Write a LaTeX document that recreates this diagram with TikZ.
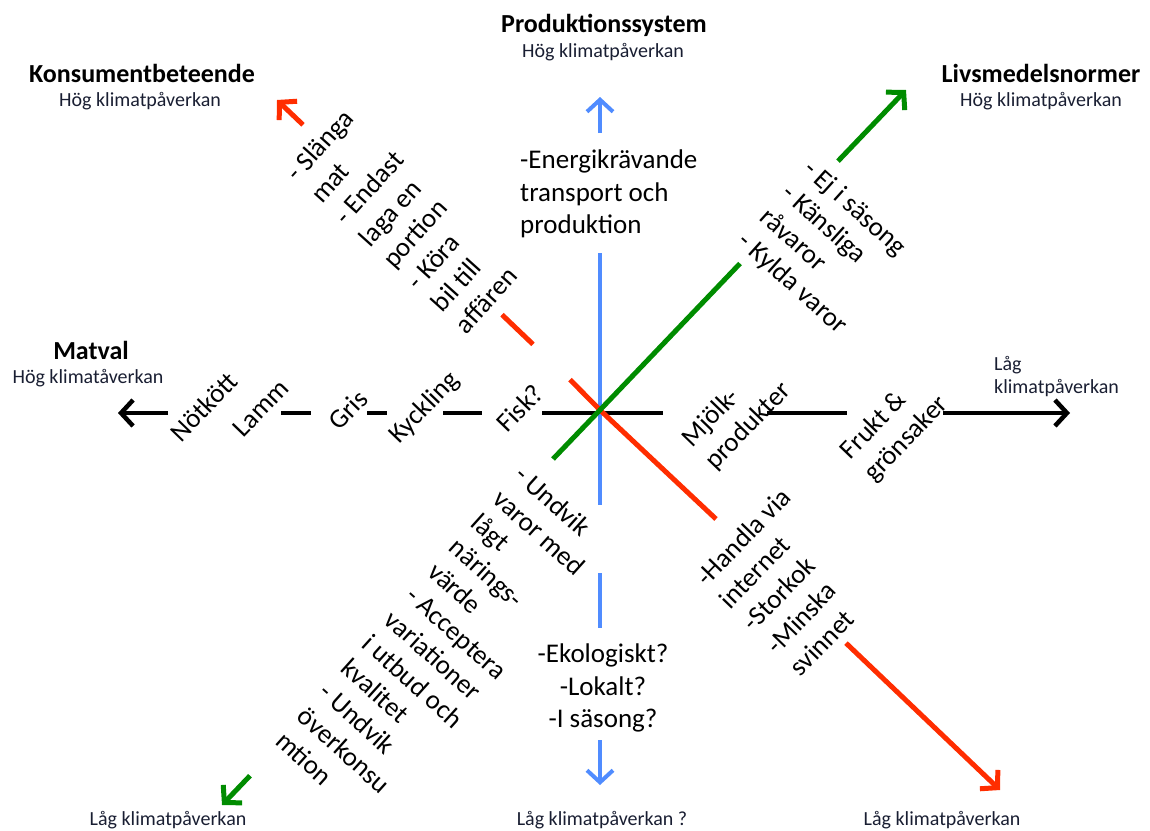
\documentclass[tikz,border=0pt]{standalone}
\usepackage{fontspec}
\setmainfont{Carlito}
\usetikzlibrary{arrows.meta}

\definecolor{konsumentRod}{RGB}{255,45,0}
\definecolor{livsmedelGron}{RGB}{0,140,0}
\definecolor{produktionBla}{RGB}{80,140,255}
\definecolor{underText}{RGB}{25,30,50}

\tikzset{
	rubrik/.style={font=\fontsize{26}{31}\selectfont\bfseries, inner sep=0pt},
	underrubrik/.style={font=\fontsize{20}{23}\selectfont, text=underText, inner sep=0pt},
	etikett/.style={font=\fontsize{27}{32.5}\selectfont, inner sep=0pt},
	pil/.style={-{Straight Barb[length=12pt,width=26pt]}},
	matvalLinje/.style={line width=4.5pt, black},
	prodLinje/.style={line width=4pt, produktionBla},
	konsLinje/.style={line width=5pt, konsumentRod},
	livsLinje/.style={line width=5pt, livsmedelGron},
}

\begin{document}
\begin{tikzpicture}[x=1pt, y=-1pt]

	\useasboundingbox (0,0) rectangle (1150,830);

	\coordinate (mitt) at (600,410);
	\coordinate (matvalV) at (118,413);
	\coordinate (matvalH) at (1070,413);
	\coordinate (prodUpp) at (600,97);
	\coordinate (prodNed) at (600,785);
	\coordinate (konsUpp) at (277,100);
	\coordinate (konsNed) at (1000,790);
	\coordinate (livsUpp) at (906,90);
	\coordinate (livsNed) at (222,805);

	% MATVAL
	\draw[matvalLinje, pil] (168,413) -- (matvalV);
	\foreach \a/\b in {281/311, 367/387, 443/482, 542/663, 767/847}
		\draw[matvalLinje] (\a,413) -- (\b,413);
	\draw[matvalLinje, pil] (943,413) -- (matvalH);

	% PRODUKTIONSSYSTEM
	\draw[prodLinje, pil] (600,133) -- (prodUpp);
	\foreach \a/\b in {253/505, 573/628}
		\draw[prodLinje] (600,\a) -- (600,\b);
	\draw[prodLinje, pil] (600,740) -- (prodNed);

	% KONSUMENTBETEENDE
	\draw[konsLinje, pil] (303,124.8) -- (konsUpp);
	\draw[konsLinje] (502,314.7) -- (533,344.3);
	\draw[konsLinje] (570,379.6) -- (mitt) -- (716,519);
	\draw[konsLinje, pil] (846,643.1) -- (konsNed);

	% LIVSMEDELSNORMER
	\draw[livsLinje, pil] (838,161.1) -- (livsUpp);
	\draw[livsLinje] (740,263.5) -- (mitt) -- (553,459);
	\draw[livsLinje, pil] (250,775.7) -- (livsNed);

	% rubriker
	\node[rubrik] (konsRubrik) at (142,73) {Konsumentbeteende};
	\node[underrubrik] (konsHog) at (140,101) {Hög klimatpåverkan};
	\node[rubrik] (prodRubrik) at (604,25) {Produktionssystem};
	\node[underrubrik] (prodHog) at (603,52) {Hög klimatpåverkan};
	\node[rubrik] (livsRubrik) at (1041,73) {Livsmedelsnormer};
	\node[underrubrik] (livsHog) at (1041,101) {Hög klimatpåverkan};
	\node[rubrik] (matRubrik) at (91,350) {Matval};
	\node[underrubrik] (matHog) at (88,378) {Hög klimatåverkan};
	\node[underrubrik, align=left, anchor=west] (matLag) at (994,377) {Låg\\klimatpåverkan};
	\node[underrubrik] (livsLag) at (168,820) {Låg klimatpåverkan};
	\node[underrubrik] (prodLag) at (602,820) {Låg klimatpåverkan ?};
	\node[underrubrik] (konsLag) at (942,820) {Låg klimatpåverkan};

	% matval
	\node[etikett, rotate=46] (notkott) at (204,407) {Nötkött};
	\node[etikett, rotate=46] (lamm) at (261,408) {Lamm};
	\node[etikett, rotate=46] (gris) at (348,410) {Gris};
	\node[etikett, rotate=46] (kyckling) at (425,408) {Kyckling};
	\node[etikett, rotate=46] (fisk) at (520,408) {Fisk?};
	\node[etikett, rotate=46, align=left] (mjolk) at (737,415) {Mjölk-\\produkter};
	\node[etikett, rotate=46, align=left] (frukt) at (895,428) {Frukt \&\\grönsaker};

	% produktion
	\node[etikett, align=left, anchor=west] (energi) at (520,194) {-Energikrävande\\transport och\\produktion};
	\node[etikett, align=center] (ekologiskt) at (603,688) {-Ekologiskt?\\-Lokalt?\\-I säsong?};

	% konsument
	\node[etikett, rotate=48, align=left] (slanga) at (405,220) {- Slänga\\mat\\- Endast\\laga en\\portion\\- Köra\\bil till\\affären};
	\node[etikett, rotate=46, align=left] (handla) at (790,582) {-Handla via\\internet\\-Storkok\\-Minska\\svinnet};

	% livsmedel
	\node[etikett, rotate=-42, align=left] (sasong) at (825,248) {- Ej i säsong\\- Känsliga\\råvaror\\- Kylda varor};
	\node[etikett, rotate=-42, align=left] (undvik) at (446,645) {- Undvik\\varor med\\lågt\\närings-\\värde\\- Acceptera\\variationer\\i utbud och\\kvalitet\\- Undvik\\överkonsu\\mtion};

\end{tikzpicture}
\end{document}
